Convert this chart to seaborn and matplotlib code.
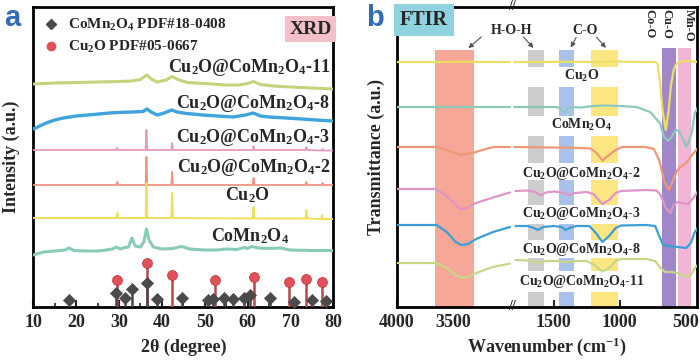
import numpy as np
import pandas as pd
import matplotlib
matplotlib.use("Agg")
import matplotlib.pyplot as plt
import seaborn as sns
from matplotlib.lines import Line2D
from matplotlib.patches import Rectangle

sns.set_theme(style="white")
plt.rcParams["font.family"] = ["Liberation Serif", "DejaVu Serif"]
plt.rcParams["font.weight"] = "bold"
plt.rcParams["axes.labelweight"] = "bold"
plt.rcParams["mathtext.fontset"] = "custom"
plt.rcParams["mathtext.rm"] = "Liberation Serif:bold"
plt.rcParams["mathtext.it"] = "Liberation Serif:italic:bold"
plt.rcParams["mathtext.bf"] = "Liberation Serif:bold"

# ---------------- XRD data (2theta, offset intensity a.u.) ----------------
xrd_11_x = [10, 15, 20, 25, 30, 33, 35, 36.5, 37.5, 38.9, 41, 42.4, 44, 46, 50, 55, 58, 60, 61.4, 63, 66, 70, 75, 80]
xrd_11_y = [223, 224, 224.5, 225, 225.5, 226, 227.5, 232, 228, 225, 227, 230.5, 227, 224.5, 223.5, 222, 222, 223.5, 225.5, 222.5, 221, 220, 219, 218]

xrd_8_x = [10, 11.5, 13, 15, 17, 20, 24, 28.6, 33, 35.6, 36.5, 37.5, 38.9, 40.5, 42.3, 43.5, 45.8, 49.6, 53, 56.6, 59.5, 61.3, 63, 65, 69, 72.6, 76, 80]
xrd_8_y = [178, 181, 184, 187, 189, 191, 192.5, 194.3, 195, 195.5, 198, 195, 192, 194, 197, 195, 193.5, 192, 191, 190, 192, 194, 191, 190, 189, 188, 187, 186]

xrd_3_x = [10, 29.3, 29.5, 29.7, 36.2, 36.4, 36.6, 42.2, 42.4, 42.6, 61.2, 61.4, 61.6, 73.5, 73.7, 73.9, 77.3, 77.5, 77.7, 80]
xrd_3_y = [157, 157, 159, 157, 157, 177, 157, 157, 164, 157, 157, 161, 157, 157, 160, 157, 156.5, 158, 156.5, 156.5]

xrd_2_x = [10, 29.4, 29.6, 29.8, 36.2, 36.4, 36.6, 42.2, 42.4, 42.6, 61.2, 61.4, 61.6, 73.5, 73.7, 73.9, 77.3, 77.5, 77.7, 80]
xrd_2_y = [122, 122, 125, 122, 122, 150, 122, 122, 135, 122, 122, 129, 122, 122, 125, 122, 122, 124, 122, 122]

xrd_cu_x = [10, 29.4, 29.6, 29.8, 36.2, 36.4, 36.6, 42.2, 42.4, 42.6, 61.2, 61.4, 61.6, 73.5, 73.7, 73.9, 77.2, 77.4, 77.6, 80]
xrd_cu_y = [89, 89, 94, 89, 89, 124, 89, 89, 114, 89, 88.5, 100, 88.5, 88.5, 97, 88.5, 88, 92, 88, 88]

xrd_co_x = [10, 12.4, 15, 17.5, 18.3, 19.5, 22, 25, 27, 28.5, 29.3, 30.3, 31.3, 32.2, 33, 33.8, 35, 35.8, 36.4, 37, 38, 40, 42.5, 44.6, 46.5, 50, 53, 55, 57.5, 59.2, 60, 61, 62.5, 65, 67.6, 70, 75, 80]
xrd_co_y = [52, 55, 56, 57, 59, 56.5, 56, 56, 57, 58, 60, 58, 59.5, 60, 69, 61, 60, 65, 78, 67, 60, 58, 58.5, 60.5, 58, 57, 57, 58, 57.5, 59.5, 58.5, 60.5, 59, 58.5, 59, 57, 56.5, 56.5]

ref_cu_pos = [29.6, 36.5, 42.4, 52.5, 61.5, 69.7, 73.6, 77.4]
ref_cu_h = [27, 44, 32, 27, 30, 25, 28, 25]
ref_co_pos = [18.3, 29.4, 31.3, 33.0, 36.5, 38.9, 44.8, 50.8, 52.0, 54.4, 56.6, 59.2, 60.6, 65.2, 70.8, 75.1, 78.4]
ref_co_h = [7, 14, 9, 18, 24, 8, 9, 7, 8, 9, 8, 9, 12, 9, 5, 7, 6]

xrd_labels = ["Cu$_2$O@CoMn$_2$O$_4$-11", "Cu$_2$O@CoMn$_2$O$_4$-8", "Cu$_2$O@CoMn$_2$O$_4$-3",
              "Cu$_2$O@CoMn$_2$O$_4$-2", "Cu$_2$O", "CoMn$_2$O$_4$"]

# ---------------- FTIR data (wavenumber, offset transmittance a.u.) ----------------
ft_cu_l = ([4000, 3800, 3600, 3400, 3200, 3000], [245, 245, 245, 245.2, 245, 245])
ft_cu_r = ([1800, 1600, 1400, 1200, 1000, 850, 730, 712, 695, 675, 650, 628, 610, 590, 570, 540, 500, 400],
           [245, 245, 245.2, 245, 245.5, 245, 245, 243, 227, 197, 177, 197, 222, 237, 243, 245.5, 246, 245])
ft_co_l = ([4000, 3700, 3400, 3000], [200, 200, 200, 200])
ft_co_r = ([1800, 1500, 1460, 1430, 1415, 1395, 1370, 1300, 1200, 1100, 1000, 873, 768, 695, 663, 631, 606, 574, 550, 515, 494, 470, 453, 430, 400],
           [200, 200, 199.5, 196, 194.5, 198, 200, 199.5, 201, 201.5, 201, 200, 195, 184, 170, 166, 170, 177, 176, 167, 160, 167, 174, 194, 201])
ft_2_l = ([4000, 3640, 3560, 3440, 3330, 3200, 3140, 3000], [160, 160, 157, 152, 154, 158.5, 160, 160])
ft_2_r = ([1800, 1500, 1300, 1220, 1175, 1130, 1080, 1030, 980, 800, 740, 700, 660, 625, 600, 570, 540, 494, 450, 400],
          [160, 159.5, 159, 158.5, 154, 146.5, 152, 157, 160, 160, 158, 147, 125, 117, 125, 135, 140, 144, 152, 160])
ft_3_l = ([4000, 3650, 3560, 3480, 3440, 3380, 3300, 3150, 3000], [118, 118, 111, 102, 98, 99, 104, 109.5, 114.5])
ft_3_r = ([1790, 1700, 1640, 1600, 1560, 1500, 1420, 1380, 1340, 1250, 1200, 1131, 1080, 1030, 990, 800, 720, 690, 650, 615, 590, 560, 520, 480, 440, 400],
          [116, 116.5, 115, 111.5, 114.5, 115.5, 114, 112, 114, 115, 113, 103, 107, 114, 116, 117, 116.5, 112, 99, 94, 102, 105, 104, 103, 109, 117])
ft_8_l = ([4000, 3650, 3560, 3480, 3430, 3370, 3300, 3150, 3000], [82, 82, 75, 65, 62, 63, 68, 75, 80])
ft_8_r = ([1790, 1700, 1650, 1620, 1580, 1500, 1440, 1410, 1380, 1330, 1230, 1180, 1131, 1080, 1030, 990, 800, 730, 700, 670, 620, 560, 494, 460, 430, 400],
          [81, 81, 79, 77, 80, 81, 80, 77, 79, 81, 81, 74, 65, 71, 79, 81.5, 82, 81, 71, 62, 61, 60, 59, 64, 75, 80])
ft_11_l = ([4000, 3650, 3560, 3480, 3430, 3370, 3300, 3150, 3000], [44, 44, 39, 32, 29, 30, 34, 40, 43.5])
ft_11_r = ([1790, 1700, 1650, 1610, 1560, 1460, 1410, 1370, 1250, 1190, 1131, 1080, 1030, 990, 800, 730, 690, 655, 610, 560, 494, 460, 430, 400],
           [47, 46.5, 45, 44, 46, 46, 44.5, 46, 46, 42, 35.5, 39, 46, 48, 48, 46, 39, 35, 35, 34, 30, 32, 39, 43])

ftir_labels = ["Cu$_2$O", "CoMn$_2$O$_4$", "Cu$_2$O@CoMn$_2$O$_4$-2", "Cu$_2$O@CoMn$_2$O$_4$-3",
               "Cu$_2$O@CoMn$_2$O$_4$-8", "Cu$_2$O@CoMn$_2$O$_4$-11"]

# ---------------- figure ----------------
fig = plt.figure(figsize=(7, 3.6), dpi=100)
ax1 = fig.add_axes([33.3 / 700, 53 / 360, 300 / 700, 300 / 360])
ax2 = fig.add_axes([397 / 700, 53 / 360, 300 / 700, 300 / 360])


def line(ax, x, y, color, lw):
    df = pd.DataFrame({"x": x, "y": y})
    sns.lineplot(data=df, x="x", y="y", ax=ax, color=color, lw=lw, estimator=None,
                 sort=False, legend=False, zorder=3)


# ----- panel a -----
xrd_series = [(xrd_11_x, xrd_11_y, "#c2d47c", 2.2), (xrd_8_x, xrd_8_y, "#3fa4dc", 2.4),
              (xrd_3_x, xrd_3_y, "#e49bbd", 1.3), (xrd_2_x, xrd_2_y, "#f09480", 1.3),
              (xrd_cu_x, xrd_cu_y, "#ebe15c", 1.4), (xrd_co_x, xrd_co_y, "#88cbb7", 2.2)]
for x, y, c, lw in xrd_series:
    line(ax1, x, y, c, lw)

ax1.vlines(ref_cu_pos, 0, ref_cu_h, color="#b94848", lw=1.8, zorder=3)
ax1.vlines(ref_co_pos, 0, ref_co_h, color="#454545", lw=1.8, zorder=4)
sns.scatterplot(x=ref_co_pos, y=ref_co_h, ax=ax1, marker="D", s=38, color="#4a4a4a",
                edgecolor="#4a4a4a", zorder=5, legend=False)
sns.scatterplot(x=ref_cu_pos, y=ref_cu_h, ax=ax1, marker="o", s=50, color="#e2515a",
                edgecolor="#c03a40", linewidth=0.6, zorder=6, legend=False)

lab_pos = [(79.3, 239, "right"), (79.3, 204, "right"), (79.3, 170, "right"),
           (79.3, 139, "right"), (60.0, 112, "center"), (60.5, 71, "center")]
for (lx, ly, ha), t in zip(lab_pos, xrd_labels):
    ax1.text(lx, ly, t, ha=ha, va="center", fontsize=13, fontweight="bold", zorder=7)

ax1.text(0.995, 0.955, "XRD", transform=ax1.transAxes, ha="right", va="top", fontsize=14,
         fontweight="bold", bbox=dict(fc="#f3c0c8", ec="none", pad=3), zorder=7)

handles = [Line2D([], [], ls="none", marker="D", ms=5, color="#4a4a4a"),
           Line2D([], [], ls="none", marker="o", ms=6, color="#e2515a")]
ax1.legend(handles, ["CoMn$_2$O$_4$ PDF#18-0408", "Cu$_2$O PDF#05-0667"], loc="upper left",
           bbox_to_anchor=(0.0, 1.0), frameon=False, prop=dict(size=11, weight="bold"),
           handletextpad=0.6, labelspacing=0.4, handlelength=1.0, borderaxespad=0.25)

ax1.set_xlim(10, 80)
ax1.set_ylim(0, 300)
ax1.set_xticks(range(10, 81, 10))
ax1.set_xticks(range(15, 80, 10), minor=True)
ax1.set_yticks([])
ax1.set_xlabel("2θ (degree)", fontsize=13, fontweight="bold")
ax1.set_ylabel("Intensity (a.u.)", fontsize=13, fontweight="bold")
ax1.xaxis.set_label_coords(0.5, -0.105)
ax1.yaxis.set_label_coords(-0.045, 0.5)

# ----- panel b : broken wavenumber axis (4000-3000 | 1800-400) -----
SEG_W = [0, 1800, 3000, 10000]
SEG_P = [-(128 + 0.124 * 1800), -128, -124, -(124 - 0.124 * 6000)]


def fwd(w):
    return np.interp(w, SEG_W, SEG_P)


def inv(p):
    return np.interp(p, SEG_P, SEG_W)


ax2.set_xscale("function", functions=(fwd, inv))

ax2.axvspan(3660, 3315, ymin=0, ymax=257 / 300, color="#f6a797", lw=0, zorder=1)
ax2.axvspan(680, 575, ymin=0, ymax=259 / 300, color="#a187c9", lw=0, zorder=1)
ax2.axvspan(560, 460, ymin=0, ymax=259 / 300, color="#f2b5d6", lw=0, zorder=1)
rows = [(240, 257), (191, 220), (144, 171), (102, 127), (67, 83), (36, 49), (0, 15)]
cols = [((1695, 1575), "#cdcdcd"), ((1460, 1350), "#aac2e8"), ((1220, 1010), "#fbe681")]
for (w1, w2), c in cols:
    for y1, y2 in rows:
        ax2.add_patch(Rectangle((w2, y1), w1 - w2, y2 - y1, color=c, lw=0, zorder=1))

ftir_series = [(ft_cu_l, ft_cu_r, "#ece063"), (ft_co_l, ft_co_r, "#8bcabb"),
               (ft_2_l, ft_2_r, "#ef9878"), (ft_3_l, ft_3_r, "#de96c4"),
               (ft_8_l, ft_8_r, "#3c9ed6"), (ft_11_l, ft_11_r, "#c6d78a")]
for left, right, c in ftir_series:
    line(ax2, left[0], left[1], c, 1.6)
    line(ax2, right[0], right[1], c, 1.6)

ft_lab_y = [231, 182, 134, 94, 57, 25]
for ly, t in zip(ft_lab_y, ftir_labels):
    ax2.text(1290, ly, t, ha="center", va="center", fontsize=10, fontweight="bold", zorder=7)

ax2.text(0.01, 0.99, "FTIR", transform=ax2.transAxes, ha="left", va="top", fontsize=14.5,
         fontweight="bold", bbox=dict(fc="#8ed3df", ec="none", pad=4), zorder=7)

arw = dict(arrowstyle="-|>", color="#555555", lw=0.8, mutation_scale=7)
ax2.text(2450, 277, "H-O-H", ha="center", va="center", fontsize=10, fontweight="bold")
ax2.annotate("", xy=(3387, 257), xytext=(3234, 272), arrowprops=arw)
ax2.annotate("", xy=(1639, 257), xytext=(1744, 272), arrowprops=arw)
ax2.text(1260, 277, "C-O", ha="center", va="center", fontsize=10, fontweight="bold")
ax2.annotate("", xy=(1381, 257), xytext=(1320, 272), arrowprops=arw)
ax2.annotate("", xy=(1090, 257), xytext=(1190, 272), arrowprops=arw)
for w, t in [(776, "Co-O"), (647, "Cu-O"), (477, "Mn-O")]:
    ax2.text(w, 298, t, rotation=-90, ha="center", va="top", fontsize=9, fontweight="bold", zorder=7)

for yy in (0, 1):
    ax2.text(2400, yy, "//", transform=ax2.get_xaxis_transform(), ha="center", va="center",
             fontsize=10, fontweight="bold", zorder=8, clip_on=False)

ax2.set_xlim(4000, 413)
ax2.set_ylim(0, 300)
ax2.set_xticks([4000, 3500, 1500, 1000, 500])
ax2.set_xticklabels(["4000", "3500", "1500", "1000", "500"])
ax2.xaxis.set_minor_locator(matplotlib.ticker.NullLocator())
ax2.set_yticks([])
ax2.set_xlabel("Wavenumber (cm$^{-1}$)", fontsize=13, fontweight="bold")
ax2.set_ylabel("Transmittance (a.u.)", fontsize=13, fontweight="bold")
ax2.xaxis.set_label_coords(0.5, -0.095)
ax2.yaxis.set_label_coords(-0.04, 0.5)

for ax in (ax1, ax2):
    for s in ax.spines.values():
        s.set_linewidth(2)
        s.set_color("black")
        s.set_visible(True)
    ax.tick_params(axis="x", which="major", direction="in", length=5, width=1.5,
                   labelsize=13, pad=5, bottom=True)
    ax.tick_params(axis="x", which="minor", direction="in", length=3, width=1.2, bottom=True)
    for lab in ax.get_xticklabels():
        lab.set_fontweight("bold")

fig.text(4 / 700, 1 - 18 / 360, "a", color="#2f6cb4", fontsize=21, fontweight="bold",
         family="Liberation Sans", va="center", ha="left")
fig.text(366 / 700, 1 - 18 / 360, "b", color="#2f6cb4", fontsize=21, fontweight="bold",
         family="Liberation Sans", va="center", ha="left")

fig.savefig("out.png", dpi=100, facecolor="white")
